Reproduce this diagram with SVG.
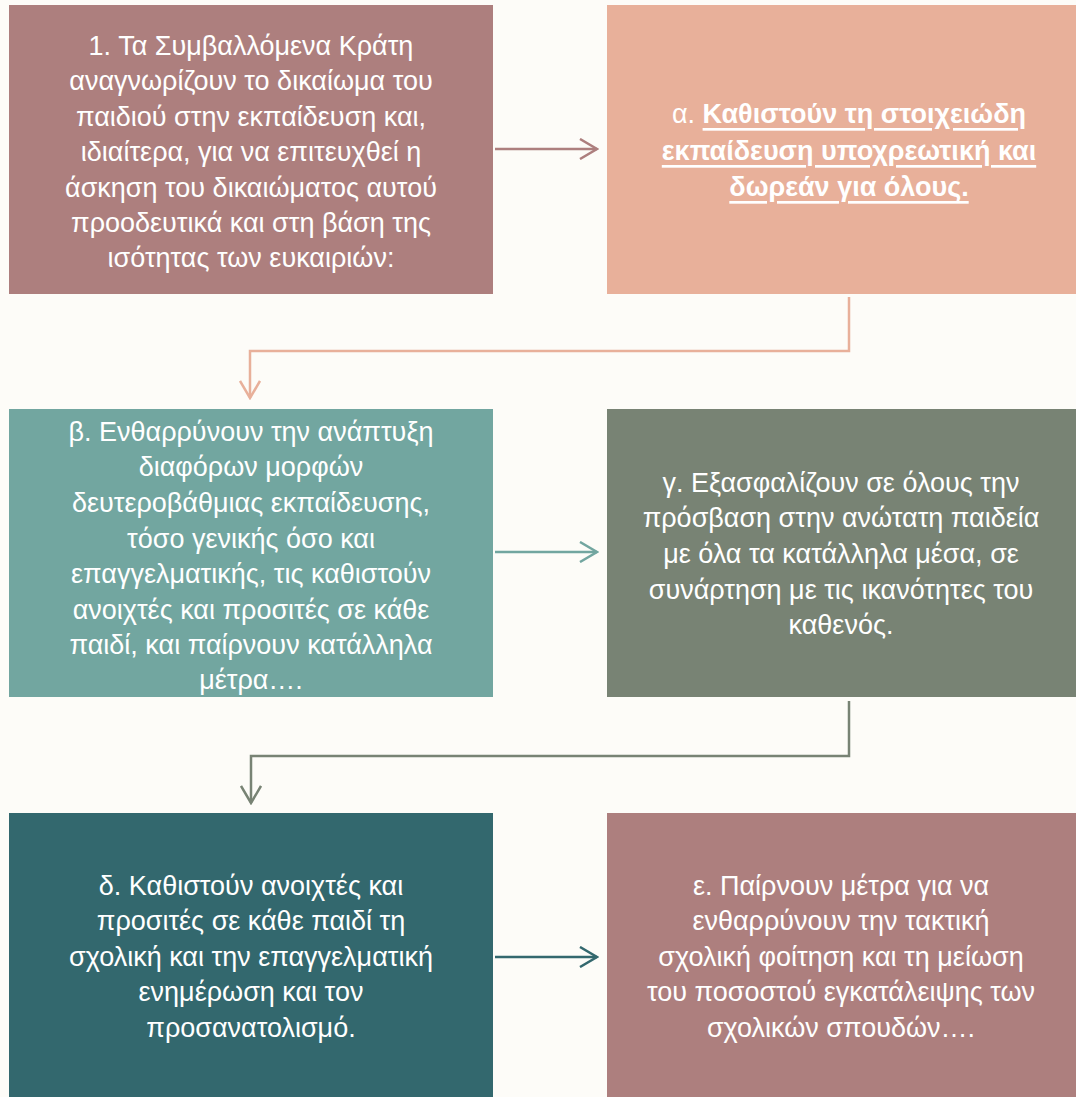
<svg xmlns="http://www.w3.org/2000/svg" width="1076" height="1097" viewBox="0 0 1076 1097">
<style>
.t{font-family:"Liberation Sans",Arial,sans-serif;font-size:27px;fill:#fff;text-anchor:middle;dominant-baseline:central}
.b{font-weight:bold;text-decoration:underline;text-decoration-skip-ink:none}
.c{fill:none;stroke-width:2.5}
</style>
<defs>
<marker id="m1" markerWidth="20" markerHeight="22" refX="18" refY="11" orient="auto" markerUnits="userSpaceOnUse"><path d="M1,1 L18,11 L1,21" fill="none" stroke="#AD7F7E" stroke-width="2.5"/></marker>
<marker id="m2" markerWidth="20" markerHeight="22" refX="18" refY="11" orient="auto" markerUnits="userSpaceOnUse"><path d="M1,1 L18,11 L1,21" fill="none" stroke="#E8B09A" stroke-width="2.5"/></marker>
<marker id="m3" markerWidth="20" markerHeight="22" refX="18" refY="11" orient="auto" markerUnits="userSpaceOnUse"><path d="M1,1 L18,11 L1,21" fill="none" stroke="#72A6A0" stroke-width="2.5"/></marker>
<marker id="m4" markerWidth="20" markerHeight="22" refX="18" refY="11" orient="auto" markerUnits="userSpaceOnUse"><path d="M1,1 L18,11 L1,21" fill="none" stroke="#788374" stroke-width="2.5"/></marker>
<marker id="m5" markerWidth="20" markerHeight="22" refX="18" refY="11" orient="auto" markerUnits="userSpaceOnUse"><path d="M1,1 L18,11 L1,21" fill="none" stroke="#33686E" stroke-width="2.5"/></marker>
</defs>
<rect width="1076" height="1097" fill="#FDFCF8"/>
<g id="connectors">
<path class="c" stroke="#AD7F7E" d="M495,149 H597" marker-end="url(#m1)"/>
<path class="c" stroke="#E8B09A" d="M849,297 V351 H250 V398" marker-end="url(#m2)"/>
<path class="c" stroke="#72A6A0" d="M495,552 H597" marker-end="url(#m3)"/>
<path class="c" stroke="#788374" d="M849,701 V756 H251 V803" marker-end="url(#m4)"/>
<path class="c" stroke="#33686E" d="M495,957 H597" marker-end="url(#m5)"/>
</g>
<g id="node1">
<rect x="9" y="5" width="484" height="289" fill="#AD7F7E"/>
<text class="t" x="251" y="46">1. Τα Συμβαλλόμενα Κράτη</text>
<text class="t" x="251" y="81">αναγνωρίζουν το δικαίωμα του</text>
<text class="t" x="251" y="117">παιδιού στην εκπαίδευση και,</text>
<text class="t" x="251" y="152">ιδιαίτερα, για να επιτευχθεί η</text>
<text class="t" x="251" y="188">άσκηση του δικαιώματος αυτού</text>
<text class="t" x="251" y="223">προοδευτικά και στη βάση της</text>
<text class="t" x="251" y="258">ισότητας των ευκαιριών:</text>
</g>
<g id="nodeA">
<rect x="607" y="5" width="469" height="289" fill="#E8B09A"/>
<text class="t" x="849" y="114">α. <tspan class="b">Καθιστούν τη στοιχειώδη</tspan></text>
<text class="t b" x="849" y="151">εκπαίδευση υποχρεωτική και</text>
<text class="t b" x="849" y="187">δωρεάν για όλους.</text>
</g>
<g id="nodeB">
<rect x="9" y="409" width="484" height="288" fill="#72A6A0"/>
<text class="t" x="251" y="432">β. Ενθαρρύνουν την ανάπτυξη</text>
<text class="t" x="251" y="467">διαφόρων μορφών</text>
<text class="t" x="251" y="503">δευτεροβάθμιας εκπαίδευσης,</text>
<text class="t" x="251" y="539">τόσο γενικής όσο και</text>
<text class="t" x="251" y="574">επαγγελματικής, τις καθιστούν</text>
<text class="t" x="251" y="610">ανοιχτές και προσιτές σε κάθε</text>
<text class="t" x="251" y="645">παιδί, και παίρνουν κατάλληλα</text>
<text class="t" x="251" y="680">μέτρα….</text>
</g>
<g id="nodeC">
<rect x="607" y="409" width="469" height="288" fill="#788374"/>
<text class="t" x="841" y="483">γ. Εξασφαλίζουν σε όλους την</text>
<text class="t" x="841" y="518">πρόσβαση στην ανώτατη παιδεία</text>
<text class="t" x="841" y="554">με όλα τα κατάλληλα μέσα, σε</text>
<text class="t" x="841" y="590">συνάρτηση με τις ικανότητες του</text>
<text class="t" x="841" y="625">καθενός.</text>
</g>
<g id="nodeD">
<rect x="9" y="813" width="484" height="284" fill="#33686E"/>
<text class="t" x="251" y="886">δ. Καθιστούν ανοιχτές και</text>
<text class="t" x="251" y="921">προσιτές σε κάθε παιδί τη</text>
<text class="t" x="251" y="957">σχολική και την επαγγελματική</text>
<text class="t" x="251" y="992">ενημέρωση και τον</text>
<text class="t" x="251" y="1028">προσανατολισμό.</text>
</g>
<g id="nodeE">
<rect x="607" y="813" width="469" height="284" fill="#AD7F7E"/>
<text class="t" x="841" y="886">ε. Παίρνουν μέτρα για να</text>
<text class="t" x="841" y="921">ενθαρρύνουν την τακτική</text>
<text class="t" x="841" y="957">σχολική φοίτηση και τη μείωση</text>
<text class="t" x="841" y="992">του ποσοστού εγκατάλειψης των</text>
<text class="t" x="841" y="1028">σχολικών σπουδών….</text>
</g>
</svg>
